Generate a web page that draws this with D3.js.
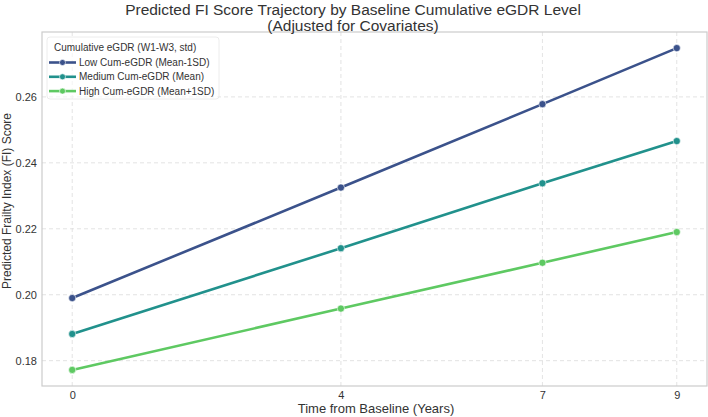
<!DOCTYPE html>
<html lang="en">
<head>
<meta charset="UTF-8">
<title>Predicted FI Score Trajectory</title>
<script src="https://d3js.org/d3.v7.min.js"></script>
<style>
  body { margin: 0; background: #fff; }
  text { font-family: "Liberation Sans", Arial, sans-serif; }
</style>
</head>
<body>
<div id="chart"></div>
<script>
// Data
const years = [0, 4, 7, 9];
const xTicks = [0, 4, 7, 9];
const yTicks = [0.18, 0.20, 0.22, 0.24, 0.26];
const seriesNames = ["Low Cum-eGDR (Mean-1SD)", "Medium Cum-eGDR (Mean)", "High Cum-eGDR (Mean+1SD)"];
const seriesColors = ["#3b528b", "#21918c", "#5ec962"];
const lowValues = [0.1990, 0.2325, 0.2578, 0.2748];
const medValues = [0.1881, 0.2141, 0.2338, 0.2466];
const highValues = [0.1772, 0.1958, 0.2097, 0.2190];

const width = 708, height = 417;
const margin = { top: 32, right: 1, bottom: 31, left: 42 };

const svg = d3.select("#chart").append("svg")
    .attr("width", width)
    .attr("height", height);

const x = d3.scaleLinear()
    .domain([-0.45, 9.45])
    .range([margin.left, width - margin.right]);

const yMin = 0.1772, yMax = 0.2748, pad = (yMax - yMin) * 0.05;
const y = d3.scaleLinear()
    .domain([yMin - pad, yMax + pad])
    .range([height - margin.bottom, margin.top]);

// grid
const grid = svg.append("g");
grid.selectAll("line.gx")
    .data(xTicks)
    .join("line")
    .attr("x1", d => x(d)).attr("x2", d => x(d))
    .attr("y1", margin.top).attr("y2", height - margin.bottom)
    .attr("stroke", "#dcdcdc").attr("stroke-dasharray", "4,3").attr("stroke-width", 0.8);
grid.selectAll("line.gy")
    .data(yTicks)
    .join("line")
    .attr("x1", margin.left).attr("x2", width - margin.right)
    .attr("y1", d => y(d)).attr("y2", d => y(d))
    .attr("stroke", "#dcdcdc").attr("stroke-dasharray", "4,3").attr("stroke-width", 0.8);

// frame
svg.append("rect")
    .attr("x", margin.left).attr("y", margin.top)
    .attr("width", width - margin.left - margin.right)
    .attr("height", height - margin.top - margin.bottom)
    .attr("fill", "none").attr("stroke", "#cccccc").attr("stroke-width", 1.2);

// axes
const xAxis = svg.append("g")
    .attr("transform", `translate(0,${height - margin.bottom})`)
    .call(d3.axisBottom(x).tickValues(xTicks).tickFormat(d3.format("d")).tickSize(0).tickPadding(5));
const yAxis = svg.append("g")
    .attr("transform", `translate(${margin.left},0)`)
    .call(d3.axisLeft(y).tickValues(yTicks).tickFormat(d3.format(".2f")).tickSize(0).tickPadding(5));
[xAxis, yAxis].forEach(a => {
    a.select(".domain").remove();
    a.selectAll("text").attr("font-size", 11).attr("fill", "#333")
        .style("font-family", "'Liberation Sans', Arial, sans-serif");
});

// lines
const series = [lowValues, medValues, highValues].map((vals, i) => ({
    name: seriesNames[i],
    color: seriesColors[i],
    points: years.map((t, j) => ({ t, v: vals[j] }))
}));

const line = d3.line().x(d => x(d.t)).y(d => y(d.v));

const sg = svg.append("g").selectAll("g")
    .data(series)
    .join("g");
sg.append("path")
    .attr("d", d => line(d.points))
    .attr("fill", "none")
    .attr("stroke", d => d.color)
    .attr("stroke-width", 2.6);
sg.selectAll("circle")
    .data(d => d.points.map(p => ({ ...p, color: d.color })))
    .join("circle")
    .attr("cx", d => x(d.t))
    .attr("cy", d => y(d.v))
    .attr("r", 3.6)
    .attr("fill", d => d.color)
    .attr("stroke", "#fff")
    .attr("stroke-width", 0.6);

// legend
const lg = svg.append("g").attr("transform", "translate(47,37)");
lg.append("rect")
    .attr("width", 172).attr("height", 62).attr("rx", 3)
    .attr("fill", "#fff").attr("fill-opacity", 0.6)
    .attr("stroke", "#e0e0e0").attr("stroke-opacity", 0.6);
lg.append("text")
    .attr("x", 7).attr("y", 14)
    .attr("font-size", 10).attr("fill", "#333")
    .text("Cumulative eGDR (W1-W3, std)");
series.forEach((s, i) => {
    const yy = 25.5 + i * 14.3;
    lg.append("line")
        .attr("x1", 2).attr("x2", 29).attr("y1", yy).attr("y2", yy)
        .attr("stroke", s.color).attr("stroke-width", 2.6);
    lg.append("circle")
        .attr("cx", 15.5).attr("cy", yy).attr("r", 3).attr("fill", s.color)
        .attr("stroke", "#fff").attr("stroke-width", 0.6);
    lg.append("text")
        .attr("x", 32).attr("y", yy + 3.6)
        .attr("font-size", 10).attr("fill", "#333")
        .text(s.name);
});

// titles
svg.append("text")
    .attr("x", 353).attr("y", 14.5)
    .attr("text-anchor", "middle").attr("font-size", 15.5).attr("fill", "#333")
    .text("Predicted FI Score Trajectory by Baseline Cumulative eGDR Level");
svg.append("text")
    .attr("x", 353).attr("y", 30.5)
    .attr("text-anchor", "middle").attr("font-size", 15.5).attr("fill", "#333")
    .text("(Adjusted for Covariates)");

svg.append("text")
    .attr("x", 376).attr("y", 413)
    .attr("text-anchor", "middle").attr("font-size", 13).attr("fill", "#333")
    .text("Time from Baseline (Years)");

svg.append("text")
    .attr("transform", "translate(11,201) rotate(-90)")
    .attr("text-anchor", "middle").attr("font-size", 12).attr("fill", "#333")
    .text("Predicted Frailty Index (FI) Score");
</script>
</body>
</html>
